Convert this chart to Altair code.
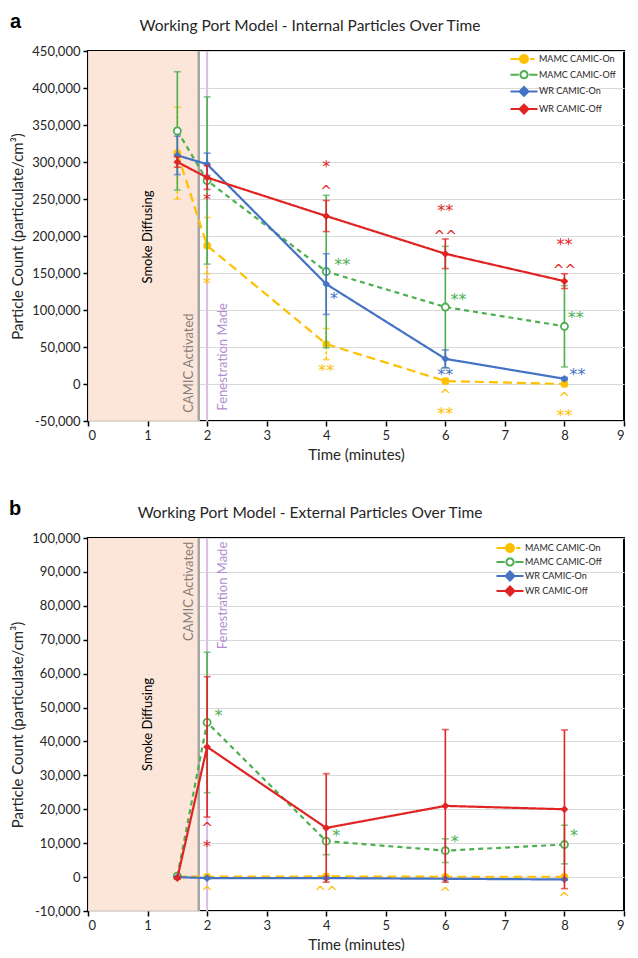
import math
import altair as alt
import pandas as pd

# ---------------- data ----------------
SERIES = ["MAMC CAMIC-On", "MAMC CAMIC-Off", "WR CAMIC-On", "WR CAMIC-Off"]
COLORS = ["#FFC000", "#4CAF50", "#4472C4", "#E02424"]
FILLS = ["#FFC000", "#FFFFFF", "#4472C4", "#E02424"]
TIMES = [1.5, 2, 4, 6, 8]

CAMIC_TIME = 1.86
FENESTRATION_TIME = 2.0

# panel a - internal
A_MAMC_ON = [312000, 187000, 54000, 4000, 0]
A_MAMC_ON_ERR = [62000, 38000, 21000, 3000, 2000]
A_MAMC_OFF = [342000, 275000, 152000, 104000, 78000]
A_MAMC_OFF_ERR = [80000, 113000, 103000, 82000, 55000]
A_WR_ON = [309000, 297000, 135000, 34000, 7000]
A_WR_ON_ERR = [26000, 15000, 41000, 12000, 2000]
A_WR_OFF = [300000, 279000, 227000, 176000, 139000]
A_WR_OFF_ERR = [7000, 16000, 21000, 20000, 10000]

A_ANN_SERIES = ["MAMC CAMIC-On"] * 6 + ["MAMC CAMIC-Off"] * 3 + ["WR CAMIC-On"] * 3 + ["WR CAMIC-Off"] * 7
A_ANN_X = [2.0, 4.0, 6.0, 6.0, 8.0, 8.0,
           4.27, 6.22, 8.19,
           4.13, 6.0, 8.22,
           2.0, 4.0, 4.0, 6.0, 6.0, 8.0, 8.0]
A_ANN_Y = [137000, 18500, -10800, -39000, -15000, -42000,
           162500, 114800, 91000,
           116600, 13000, 13000,
           249500, 265000, 294500, 204000, 235000, 158000, 189000]
A_ANN_TEXT = ["*", "**", "^", "**", "^", "**",
              "**", "**", "**",
              "*", "**", "**",
              "*", "^", "*", "^^", "**", "^^", "**"]

# panel b - external
B_MAMC_ON = [200, 100, 200, 100, 100]
B_MAMC_ON_ERR = [300, 200, 200, 200, 200]
B_MAMC_OFF = [300, 45600, 10600, 7800, 9600]
B_MAMC_OFF_ERR = [500, 20700, 4000, 3500, 5700]
B_WR_ON = [0, -300, -300, -500, -700]
B_WR_ON_ERR = [200, 200, 200, 200, 200]
B_WR_OFF = [-300, 38400, 14500, 21000, 20000]
B_WR_OFF_ERR = [300, 20700, 16000, 22500, 23400]

B_ANN_SERIES = ["MAMC CAMIC-Off"] * 4 + ["WR CAMIC-Off"] * 2 + ["MAMC CAMIC-On"] * 4
B_ANN_X = [2.19, 4.17, 6.16, 8.16, 2.0, 2.0, 2.0, 4.0, 6.0, 8.0]
B_ANN_Y = [47800, 12400, 10600, 12400, 15300, 9200, -3500, -3500, -3800, -5300]
B_ANN_TEXT = ["*", "*", "*", "*", "^", "*", "^", "^^", "^", "^"]

FONT = "Lato"
TXT = "#262626"
WIDTH = 536


def circle_path(r, n=20):
    pts = [(r * math.cos(2 * math.pi * i / n), r * math.sin(2 * math.pi * i / n)) for i in range(n)]
    return "M" + "L".join(f"{x:.3f},{y:.3f}" for x, y in pts) + "Z"


def diamond_path(r):
    return f"M0,{-r}L{r},0L0,{r}L{-r},0Z"


LEG_PATHS = [
    "M-2.7,0H-0.8M1.25,0H2.1" + circle_path(0.8),
    "M-2.7,0H-1.05M1.05,0H2.7" + circle_path(0.72),
    "M-2.7,0H2.7" + diamond_path(0.9),
    "M-2.7,0H2.7" + diamond_path(0.9),
]

STYLE = {
    "MAMC CAMIC-On": dict(dash=[9, 5], shape="circle", filled=True, size=60, errdash=[3, 2]),
    "MAMC CAMIC-Off": dict(dash=[5, 4], shape="circle", filled=False, size=50, errdash=[1, 0]),
    "WR CAMIC-On": dict(dash=[1, 0], shape="diamond", filled=True, size=60, errdash=[1, 0]),
    "WR CAMIC-Off": dict(dash=[1, 0], shape="diamond", filled=True, size=60, errdash=[1, 0]),
}


def make_panel(letter, title, vals, errs, ann, ydomain, yticks, height, leg_x, leg_y, row_pad,
               camic_y, camic_align, fen_y, fen_align, smoke_y, title_x, letter_x, xtitle_pad):
    rows = []
    for s, v, e in zip(SERIES, vals, errs):
        for t, vv, ee in zip(TIMES, v, e):
            rows.append(dict(series=s, time=t, value=vv, lo=vv - ee, hi=vv + ee))
    df = pd.DataFrame(rows)
    adf = pd.DataFrame(dict(series=ann[0], x=ann[1], y=ann[2], label=ann[3]))

    xaxis = alt.Axis(values=list(range(10)), format="d", grid=False, domain=False,
                     tickColor="black", tickWidth=1.5, tickSize=5,
                     labelFont=FONT, labelFontSize=13, labelColor=TXT, labelPadding=3,
                     title="Time (minutes)", titleFont=FONT, titleFontSize=15,
                     titleFontWeight="normal", titleColor=TXT, titlePadding=xtitle_pad)
    yaxis = alt.Axis(values=yticks, labelExpr="replace(format(datum.value, ','), '\u2212', '-')",
                     grid=True, gridColor="#d9d9d9", gridWidth=1, domain=False,
                     tickColor="black", tickWidth=1.5, tickSize=5,
                     labelFont=FONT, labelFontSize=13, labelColor=TXT, labelPadding=3,
                     title="Particle Count (particulate/cm\u00b3)", titleFont=FONT,
                     titleFontSize=15, titleFontWeight="normal", titleColor=TXT, titlePadding=6)
    xs = alt.Scale(domain=[0, 9], nice=False, zero=False)
    ys = alt.Scale(domain=ydomain, nice=False, zero=False)

    def X(f):
        return alt.X(f, type="quantitative", scale=xs, axis=xaxis)

    def Y(f):
        return alt.Y(f, type="quantitative", scale=ys, axis=yaxis)

    ev = pd.DataFrame(dict(start=[0.0], camic=[CAMIC_TIME], fen=[FENESTRATION_TIME]))
    layers = []
    layers.append(alt.Chart(ev).mark_rect(color="#FBE4D6", opacity=0.92).encode(
        x=X("start"), x2="camic", y=alt.value(0), y2=alt.value(height)))
    layers.append(alt.Chart(ev).mark_rule(color="#A6A6A6", strokeWidth=2.5).encode(
        x=X("camic"), y=alt.value(0), y2=alt.value(height)))
    layers.append(alt.Chart(ev).mark_rule(color="#D9BCE6", strokeWidth=2).encode(
        x=X("fen"), y=alt.value(0), y2=alt.value(height)))

    lab = pd.DataFrame(dict(x=[1.01, CAMIC_TIME - 0.16, FENESTRATION_TIME + 0.26],
                            y=[smoke_y, camic_y, fen_y],
                            label=["Smoke Diffusing", "CAMIC Activated", "Fenestration Made"]))
    layers.append(alt.Chart(lab.iloc[[0]]).mark_text(angle=270, font=FONT, fontSize=13, color="black",
                                                     align="center", baseline="middle").encode(
        x=X("x"), y=Y("y"), text="label:N"))
    layers.append(alt.Chart(lab.iloc[[1]]).mark_text(angle=270, font=FONT, fontSize=13, color="#8A7D78",
                                                     align=camic_align, baseline="middle").encode(
        x=X("x"), y=Y("y"), text="label:N"))
    layers.append(alt.Chart(lab.iloc[[2]]).mark_text(angle=270, font=FONT, fontSize=13, color="#B48CCF",
                                                     align=fen_align, baseline="middle").encode(
        x=X("x"), y=Y("y"), text="label:N"))

    for s, c in zip(SERIES, COLORS):
        st = STYLE[s]
        sub = df[df.series == s]
        layers.append(alt.Chart(sub).mark_rule(color=c, strokeWidth=1.6, strokeDash=st["errdash"]).encode(
            x=X("time"), y=Y("lo"), y2="hi"))
        for f in ["lo", "hi"]:
            layers.append(alt.Chart(sub).mark_tick(orient="horizontal", color=c, size=7, thickness=1.6).encode(
                x=X("time"), y=Y(f)))
        layers.append(alt.Chart(sub).mark_line(color=c, strokeWidth=2.2, strokeDash=st["dash"]).encode(
            x=X("time"), y=Y("value")))
        if st["filled"]:
            pm = alt.Chart(sub).mark_point(shape=st["shape"], filled=True, color=c, size=st["size"], opacity=1)
        else:
            pm = alt.Chart(sub).mark_point(shape=st["shape"], filled=False, color=c, fill="white",
                                           strokeWidth=1.8, size=st["size"], opacity=1)
        layers.append(pm.encode(x=X("time"), y=Y("value")))
        asub = adf[(adf.series == s) & adf.label.str.contains(r"\*")]
        if len(asub):
            layers.append(alt.Chart(asub).mark_text(font="DejaVu Sans", fontSize=16, color=c,
                                                    align="center", baseline="middle", dy=1).encode(
                x=X("x"), y=Y("y"), text="label:N"))
        csub = adf[(adf.series == s) & adf.label.str.contains(r"\^")]
        if len(csub):
            layers.append(alt.Chart(csub).mark_text(font="DejaVu Sans", fontSize=14, color=c,
                                                    align="center", baseline="middle", dy=4).encode(
                x=X("x"), y=Y("y"), text="label:N"))

    leg = alt.Legend(orient="none", legendX=leg_x, legendY=leg_y, title=None, symbolSize=100,
                     symbolStrokeWidth=2, labelFont=FONT, labelFontSize=9, labelColor=TXT,
                     rowPadding=row_pad, padding=0, labelOffset=9)
    layers.append(alt.Chart(df[df.time == 1.5]).mark_point(clip=True, strokeWidth=2, opacity=1, size=100).encode(
        x=X("time"), y=alt.value(-3000),
        shape=alt.Shape("series:N", scale=alt.Scale(domain=SERIES, range=LEG_PATHS), legend=leg),
        stroke=alt.Stroke("series:N", scale=alt.Scale(domain=SERIES, range=COLORS), legend=leg),
        fill=alt.Fill("series:N", scale=alt.Scale(domain=SERIES, range=FILLS), legend=leg),
    ))

    head = pd.DataFrame(dict(t=[title], l=[letter]))
    layers.append(alt.Chart(head).mark_text(font=FONT, fontSize=15.5, color=TXT, align="center",
                                            baseline="alphabetic").encode(
        x=alt.value(title_x), y=alt.value(-20), text="t:N"))
    layers.append(alt.Chart(head).mark_text(font="Liberation Sans", fontSize=20, fontWeight="bold",
                                            color="black", align="left", baseline="alphabetic").encode(
        x=alt.value(letter_x), y=alt.value(-23.5), text="l:N"))

    return alt.layer(*layers).properties(width=WIDTH, height=height)


pa = make_panel("a", "Working Port Model - Internal Particles Over Time",
                [A_MAMC_ON, A_MAMC_OFF, A_WR_ON, A_WR_OFF],
                [A_MAMC_ON_ERR, A_MAMC_OFF_ERR, A_WR_ON_ERR, A_WR_OFF_ERR],
                (A_ANN_SERIES, A_ANN_X, A_ANN_Y, A_ANN_TEXT),
                [-50000, 450000], list(range(-50000, 450001, 50000)), 370,
                430, 2, -0.3, -38800, "left", -36000, "left", 198600, 222, -78, 5)

pb = make_panel("b", "Working Port Model - External Particles Over Time",
                [B_MAMC_ON, B_MAMC_OFF, B_WR_ON, B_WR_OFF],
                [B_MAMC_ON_ERR, B_MAMC_OFF_ERR, B_WR_ON_ERR, B_WR_OFF_ERR],
                (B_ANN_SERIES, B_ANN_X, B_ANN_Y, B_ANN_TEXT),
                [-10000, 100000], list(range(-10000, 100001, 10000)), 373,
                416, 4, -3.5, 98900, "right", 98900, "right", 45000, 222, -79, 5)

chart = alt.vconcat(pa, pb, spacing=34).resolve_scale(
    shape="independent", stroke="independent", fill="independent"
).properties(padding={"left": 0, "top": 2, "right": 0, "bottom": -2}).configure_view(
    stroke="black", strokeWidth=2
)

chart.save("out.html", embed_options={"renderer": "svg", "actions": False})
